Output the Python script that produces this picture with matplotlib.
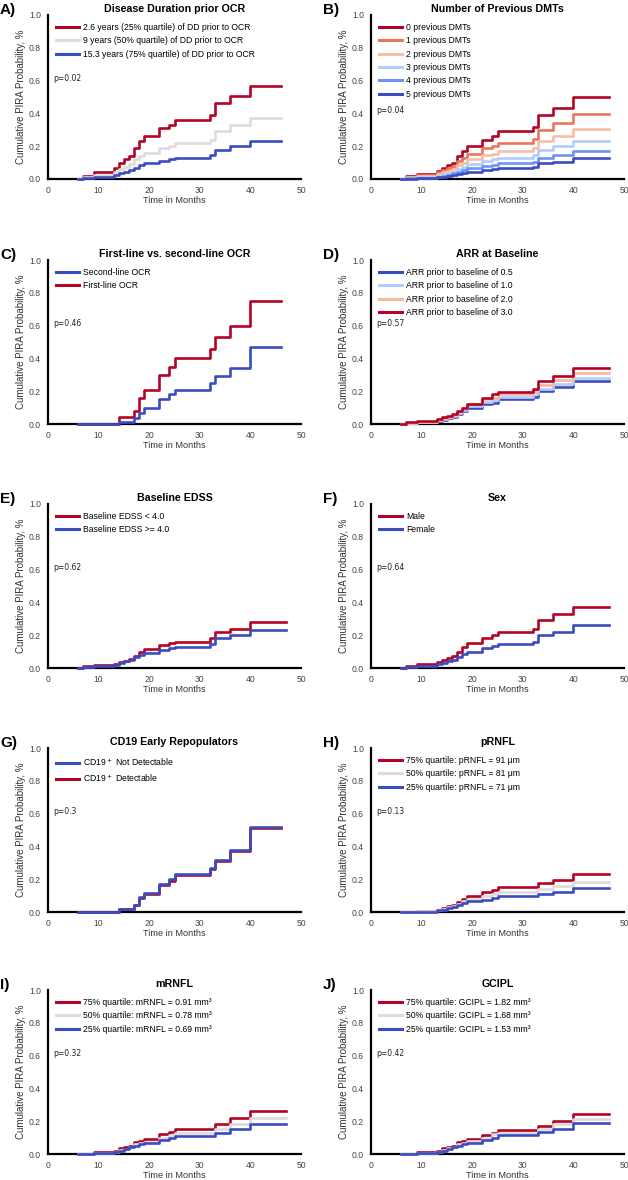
import matplotlib
matplotlib.use("Agg")
import matplotlib.pyplot as plt
from matplotlib import cm

plt.rcParams['font.family'] = ['Liberation Sans', 'DejaVu Sans']

# ---- data ----
t_a = [6, 7, 9, 13, 14, 15, 16, 17, 18, 19, 22, 24, 25, 32, 33, 36, 40, 46]
a_q25 = [0, 0.02, 0.045, 0.07, 0.10, 0.12, 0.14, 0.19, 0.23, 0.26, 0.31, 0.33, 0.36, 0.39, 0.465, 0.505, 0.57, 0.57]
a_q50 = [0, 0.01, 0.025, 0.04, 0.06, 0.075, 0.09, 0.12, 0.14, 0.16, 0.19, 0.20, 0.22, 0.235, 0.29, 0.33, 0.375, 0.375]
a_q75 = [0, 0.008, 0.015, 0.025, 0.035, 0.045, 0.055, 0.07, 0.085, 0.095, 0.11, 0.12, 0.13, 0.145, 0.175, 0.20, 0.23, 0.23]

t_b = [6, 7, 9, 13, 14, 15, 16, 17, 18, 19, 22, 24, 25, 32, 33, 36, 40, 47]
b_dmt0 = [0, 0.02, 0.03, 0.05, 0.07, 0.085, 0.10, 0.14, 0.17, 0.20, 0.24, 0.26, 0.29, 0.32, 0.39, 0.43, 0.50, 0.50]
b_dmt1 = [0, 0.015, 0.025, 0.04, 0.055, 0.065, 0.08, 0.11, 0.13, 0.155, 0.19, 0.20, 0.22, 0.245, 0.30, 0.34, 0.395, 0.395]
b_dmt2 = [0, 0.01, 0.02, 0.03, 0.04, 0.05, 0.06, 0.085, 0.10, 0.12, 0.145, 0.155, 0.17, 0.19, 0.23, 0.26, 0.305, 0.305]
b_dmt3 = [0, 0.006, 0.012, 0.02, 0.03, 0.035, 0.045, 0.06, 0.075, 0.09, 0.11, 0.12, 0.13, 0.145, 0.175, 0.20, 0.23, 0.23]
b_dmt4 = [0, 0.005, 0.009, 0.015, 0.02, 0.027, 0.035, 0.045, 0.055, 0.065, 0.08, 0.087, 0.095, 0.105, 0.13, 0.145, 0.17, 0.17]
b_dmt5 = [0, 0.003, 0.006, 0.01, 0.014, 0.018, 0.024, 0.03, 0.038, 0.045, 0.055, 0.06, 0.065, 0.075, 0.095, 0.105, 0.13, 0.13]

t_c = [6, 14, 17, 18, 19, 22, 24, 25, 32, 33, 36, 40, 46]
c_second = [0, 0.015, 0.035, 0.07, 0.10, 0.15, 0.18, 0.21, 0.25, 0.29, 0.34, 0.47, 0.47]
c_first = [0, 0.04, 0.08, 0.16, 0.21, 0.30, 0.35, 0.40, 0.46, 0.53, 0.60, 0.75, 0.75]

t_d = [6, 7, 9, 13, 14, 15, 16, 17, 18, 19, 22, 24, 25, 32, 33, 36, 40, 47]
d_arr05 = [0, 0.005, 0.012, 0.02, 0.027, 0.035, 0.045, 0.06, 0.08, 0.10, 0.12, 0.13, 0.15, 0.165, 0.20, 0.225, 0.26, 0.26]
d_arr10 = [0, 0.006, 0.013, 0.022, 0.03, 0.04, 0.05, 0.067, 0.085, 0.11, 0.135, 0.145, 0.165, 0.18, 0.215, 0.245, 0.28, 0.28]
d_arr20 = [0, 0.008, 0.015, 0.025, 0.035, 0.045, 0.055, 0.075, 0.095, 0.12, 0.15, 0.16, 0.18, 0.20, 0.24, 0.27, 0.31, 0.31]
d_arr30 = [0, 0.01, 0.02, 0.03, 0.04, 0.05, 0.06, 0.08, 0.10, 0.125, 0.16, 0.18, 0.195, 0.215, 0.26, 0.29, 0.34, 0.34]

t_e = [6, 7, 9, 13, 14, 15, 16, 17, 18, 19, 22, 24, 25, 32, 33, 36, 40, 47]
e_lt4 = [0, 0.01, 0.02, 0.025, 0.035, 0.045, 0.055, 0.075, 0.10, 0.115, 0.14, 0.15, 0.16, 0.18, 0.22, 0.24, 0.28, 0.28]
e_ge4 = [0, 0.008, 0.015, 0.02, 0.03, 0.04, 0.05, 0.065, 0.08, 0.09, 0.11, 0.12, 0.13, 0.145, 0.18, 0.20, 0.23, 0.23]

t_f = [6, 7, 9, 13, 14, 15, 16, 17, 18, 19, 22, 24, 25, 32, 33, 36, 40, 47]
f_male = [0, 0.015, 0.025, 0.035, 0.05, 0.06, 0.075, 0.10, 0.13, 0.15, 0.185, 0.20, 0.22, 0.24, 0.29, 0.33, 0.37, 0.37]
f_female = [0, 0.008, 0.015, 0.022, 0.03, 0.04, 0.05, 0.065, 0.085, 0.10, 0.125, 0.135, 0.145, 0.16, 0.20, 0.22, 0.26, 0.26]

t_g = [6, 14, 17, 18, 19, 22, 24, 25, 32, 33, 36, 40, 46]
g_not_det = [0, 0.02, 0.045, 0.09, 0.115, 0.17, 0.20, 0.23, 0.27, 0.32, 0.38, 0.52, 0.52]
g_det = [0, 0.018, 0.04, 0.087, 0.11, 0.165, 0.19, 0.225, 0.26, 0.31, 0.37, 0.51, 0.51]

t_h = [6, 9, 13, 14, 15, 16, 17, 18, 19, 22, 24, 25, 33, 36, 40, 47]
h_q75 = [0, 0.005, 0.015, 0.025, 0.035, 0.045, 0.06, 0.08, 0.10, 0.125, 0.135, 0.15, 0.175, 0.195, 0.23, 0.23]
h_q50 = [0, 0.004, 0.012, 0.02, 0.028, 0.038, 0.05, 0.065, 0.08, 0.10, 0.11, 0.12, 0.14, 0.16, 0.185, 0.185]
h_q25 = [0, 0.003, 0.01, 0.015, 0.022, 0.03, 0.04, 0.052, 0.065, 0.075, 0.085, 0.095, 0.11, 0.125, 0.145, 0.145]

t_i = [6, 9, 13, 14, 15, 16, 17, 18, 19, 22, 24, 25, 33, 36, 40, 47]
i_q75 = [0, 0.01, 0.02, 0.035, 0.04, 0.05, 0.075, 0.08, 0.09, 0.12, 0.135, 0.155, 0.18, 0.22, 0.265, 0.265]
i_q50 = [0, 0.006, 0.015, 0.025, 0.033, 0.045, 0.06, 0.07, 0.075, 0.10, 0.115, 0.13, 0.15, 0.18, 0.22, 0.22]
i_q25 = [0, 0.005, 0.012, 0.02, 0.028, 0.04, 0.05, 0.06, 0.065, 0.085, 0.10, 0.11, 0.13, 0.15, 0.185, 0.185]

t_j = [6, 9, 13, 14, 15, 16, 17, 18, 19, 22, 24, 25, 33, 36, 40, 47]
j_q75 = [0, 0.01, 0.02, 0.035, 0.04, 0.05, 0.075, 0.08, 0.09, 0.115, 0.13, 0.145, 0.17, 0.20, 0.245, 0.245]
j_q50 = [0, 0.006, 0.015, 0.025, 0.035, 0.045, 0.06, 0.07, 0.08, 0.10, 0.12, 0.13, 0.155, 0.18, 0.215, 0.215]
j_q25 = [0, 0.005, 0.012, 0.02, 0.03, 0.04, 0.05, 0.06, 0.07, 0.085, 0.10, 0.115, 0.135, 0.155, 0.19, 0.19]

RED = cm.coolwarm(1.0)
GRAY = cm.coolwarm(0.5)
BLUE = cm.coolwarm(0.0)

# (label, title, p value, p height, times, [(values, legend label, colour, zorder)])
panels = [
    ("A)", "Disease Duration prior OCR", "p=0.02", 0.61, t_a, [
        (a_q25, "2.6 years (25% quartile) of DD prior to OCR", RED, 3),
        (a_q50, "9 years (50% quartile) of DD prior to OCR", GRAY, 3),
        (a_q75, "15.3 years (75% quartile) of DD prior to OCR", BLUE, 3)]),
    ("B)", "Number of Previous DMTs", "p=0.04", 0.42, t_b, [
        (b_dmt0, "0 previous DMTs", cm.coolwarm(1.0), 3),
        (b_dmt1, "1 previous DMTs", cm.coolwarm(0.83), 3),
        (b_dmt2, "2 previous DMTs", cm.coolwarm(0.64), 3),
        (b_dmt3, "3 previous DMTs", cm.coolwarm(0.36), 3),
        (b_dmt4, "4 previous DMTs", cm.coolwarm(0.17), 3),
        (b_dmt5, "5 previous DMTs", cm.coolwarm(0.0), 3)]),
    ("C)", "First-line vs. second-line OCR", "p=0.46", 0.61, t_c, [
        (c_second, "Second-line OCR", BLUE, 3.2),
        (c_first, "First-line OCR", RED, 3)]),
    ("D)", "ARR at Baseline", "p=0.57", 0.61, t_d, [
        (d_arr05, "ARR prior to baseline of 0.5", cm.coolwarm(0.0), 3),
        (d_arr10, "ARR prior to baseline of 1.0", cm.coolwarm(0.36), 3),
        (d_arr20, "ARR prior to baseline of 2.0", cm.coolwarm(0.66), 3),
        (d_arr30, "ARR prior to baseline of 3.0", cm.coolwarm(1.0), 3)]),
    ("E)", "Baseline EDSS", "p=0.62", 0.61, t_e, [
        (e_lt4, "Baseline EDSS < 4.0", RED, 3),
        (e_ge4, "Baseline EDSS >= 4.0", BLUE, 3)]),
    ("F)", "Sex", "p=0.64", 0.61, t_f, [
        (f_male, "Male", RED, 3),
        (f_female, "Female", BLUE, 3)]),
    ("G)", "CD19 Early Repopulators", "p=0.3", 0.61, t_g, [
        (g_not_det, "CD19$^+$ Not Detectable", BLUE, 3.2),
        (g_det, "CD19$^+$ Detectable", RED, 3)]),
    ("H)", "pRNFL", "p=0.13", 0.61, t_h, [
        (h_q75, "75% quartile: pRNFL = 91 μm", RED, 3),
        (h_q50, "50% quartile: pRNFL = 81 μm", GRAY, 3),
        (h_q25, "25% quartile: pRNFL = 71 μm", BLUE, 3)]),
    ("I)", "mRNFL", "p=0.32", 0.61, t_i, [
        (i_q75, "75% quartile: mRNFL = 0.91 mm³", RED, 3),
        (i_q50, "50% quartile: mRNFL = 0.78 mm³", GRAY, 3),
        (i_q25, "25% quartile: mRNFL = 0.69 mm³", BLUE, 3)]),
    ("J)", "GCIPL", "p=0.42", 0.61, t_j, [
        (j_q75, "75% quartile: GCIPL = 1.82 mm³", RED, 3),
        (j_q50, "50% quartile: GCIPL = 1.68 mm³", GRAY, 3),
        (j_q25, "25% quartile: GCIPL = 1.53 mm³", BLUE, 3)]),
]

W, H = 628, 1180
fig = plt.figure(figsize=(W / 100, H / 100), dpi=100)

col_left = [48, 371]
row_top = [15, 260, 504, 748, 990]
ax_w, ax_h = 253, 164

for k, (lab, title, ptxt, py, times, series) in enumerate(panels):
    r, c = divmod(k, 2)
    left = col_left[c]
    top = row_top[r]
    ax = fig.add_axes([left / W, 1 - (top + ax_h) / H, ax_w / W, ax_h / H])

    for vals, name, col, z in series:
        ax.step(times, vals, where='post', color=col, lw=1.9, label=name,
                zorder=z, clip_on=False)

    ax.set_xlim(0, 50)
    ax.set_ylim(0, 1.0)
    ax.set_xticks([0, 10, 20, 30, 40, 50])
    ax.set_yticks([0.0, 0.2, 0.4, 0.6, 0.8, 1.0])
    ax.set_yticklabels(['0.0', '0.2', '0.4', '0.6', '0.8', '1.0'])
    ax.tick_params(length=0, labelsize=6.2, colors='#444444')
    ax.tick_params(axis='x', pad=5)
    ax.tick_params(axis='y', pad=5)
    for s in ['top', 'right']:
        ax.spines[s].set_visible(False)
    for s in ['left', 'bottom']:
        ax.spines[s].set_linewidth(1.6)
        ax.spines[s].set_color('black')
    ax.set_xlabel("Time in Months", fontsize=6.6, color='#333333', labelpad=1)
    ax.set_ylabel("Cumulative PIRA Probability, %", fontsize=7, color='#333333', labelpad=2)
    ax.set_title(title, fontsize=7.7, fontweight='bold', pad=2)
    ax.text(-0.19, 1.03, lab, transform=ax.transAxes, fontsize=11,
            fontweight='bold', va='center', ha='left')
    ax.text(1.0, py, ptxt, fontsize=5.5, family='DejaVu Sans', color='#222222',
            va='center', ha='left')
    leg = ax.legend(loc='upper left', bbox_to_anchor=(0.0, 1.0), frameon=False,
                    fontsize=6.2, handlelength=2.6, handletextpad=0.5,
                    labelspacing=0.5, borderaxespad=0.55)
    for line in leg.get_lines():
        line.set_linewidth(2.2)

fig.savefig("out.png", dpi=100)
